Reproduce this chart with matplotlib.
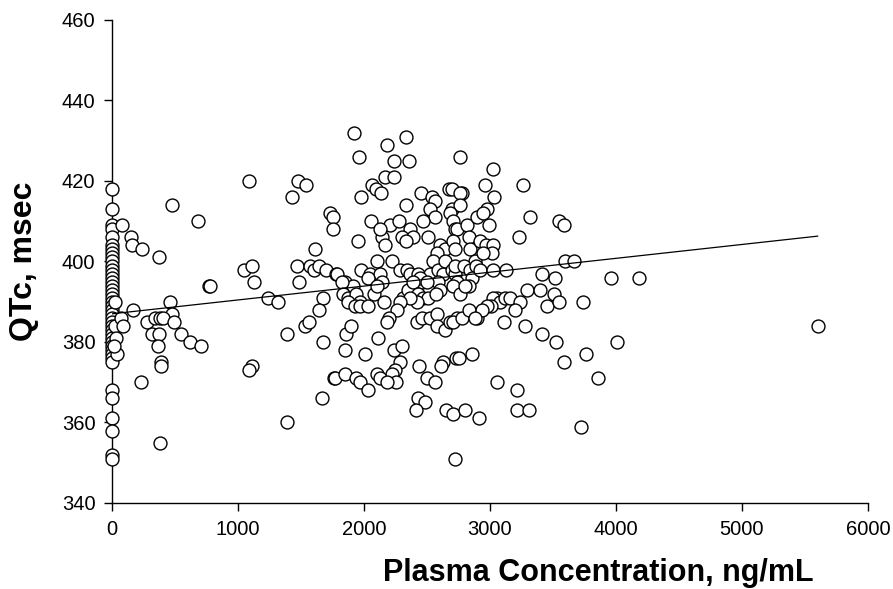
import matplotlib
matplotlib.use("Agg")
import matplotlib.pyplot as plt
import numpy as np

plt.rcParams['font.family'] = ['Liberation Sans', 'DejaVu Sans']

# --- data ---
col_x0_y = [418, 413, 409, 408, 406, 404, 403, 402, 401, 400, 399, 398, 397, 396, 395,
            394, 393, 392, 391, 390, 389, 388, 387, 386, 385, 384, 383, 382, 381, 380,
            379, 378, 377, 376, 375, 368, 366, 361, 358, 352, 351]
col_x0_x = [0] * len(col_x0_y)

near_zero = [(20, 384), (30, 381), (40, 377), (15, 379), (25, 390),
             (80, 409), (150, 406), (155, 404), (235, 403), (375, 401), (480, 414), (680, 410),
             (770, 394), (780, 394), (460, 390), (165, 388), (480, 387), (70, 386), (90, 384),
             (275, 385), (340, 386), (380, 386), (405, 386), (490, 385), (315, 382), (375, 382),
             (550, 382), (620, 380), (705, 379), (365, 379), (390, 375), (385, 374), (230, 370),
             (380, 355)]

mid_low = [(1090, 420), (1050, 398), (1110, 399), (1130, 395), (1240, 391), (1315, 390),
           (1110, 374), (1085, 373), (1390, 360), (1390, 382), (1430, 416), (1475, 420),
           (1540, 419), (1465, 399), (1485, 395), (1570, 399), (1600, 398), (1640, 399),
           (1700, 398), (1780, 397), (1610, 403), (1730, 412), (1755, 411), (1750, 408),
           (1675, 391), (1640, 388), (1530, 384), (1565, 385), (1675, 380), (1765, 371),
           (1670, 366)]

dense = [(1920, 432), (2335, 431), (2180, 429), (1960, 426), (2235, 425), (2355, 425), (2760, 426),
         (2170, 421), (2235, 421), (2060, 419), (2095, 418), (2135, 417), (1975, 416), (2330, 414),
         (2455, 417), (2540, 416), (2565, 415), (2520, 413), (2560, 411), (2470, 410),
         (2675, 418), (2695, 418), (2775, 417), (2760, 417), (2695, 413), (2760, 414), (2685, 412),
         (2705, 410), (2720, 408), (2735, 408), (2815, 409), (2895, 411),
         (2055, 410), (2205, 409), (2275, 410), (2365, 408), (2300, 406), (2385, 406), (2335, 405),
         (2140, 406), (2165, 404), (1955, 405), (2125, 408),
         (2510, 406), (2605, 404), (2645, 403), (2580, 402), (2550, 400), (2710, 405), (2720, 403),
         (2830, 406), (2840, 403), (2880, 400),
         (2100, 400), (2220, 400), (1980, 398), (1785, 397), (1850, 395), (2050, 397), (2125, 397),
         (2285, 398), (2340, 398), (2365, 397), (2430, 397), (2460, 395), (2525, 397), (2590, 398),
         (2630, 397), (2645, 400), (2695, 398), (2720, 397), (2720, 399), (2790, 399), (2840, 398),
         (2890, 399), (2855, 396), (2590, 395), (2140, 395), (2035, 396), (1915, 394), (2445, 396),
         (2500, 395), (2735, 395), (2830, 394),
         (1825, 395), (1835, 392), (1875, 391), (1940, 392), (1970, 390), (1875, 390), (1930, 389),
         (1970, 389), (2035, 389), (2080, 392), (2100, 394), (2155, 390), (2310, 391), (2350, 393),
         (2390, 395), (2430, 392), (2470, 391), (2510, 391), (2420, 390), (2365, 391), (2285, 390),
         (2260, 388), (2195, 386), (2180, 385), (2420, 385), (2460, 386), (2525, 386), (2580, 387),
         (2580, 384), (2645, 383), (2685, 385), (2735, 386), (2710, 385), (2775, 386), (2835, 388),
         (2895, 386), (2605, 393), (2575, 392), (2710, 394), (2760, 392), (2800, 394),
         (1855, 382), (1900, 384), (1850, 378), (2010, 377), (2110, 381), (2240, 378), (2300, 379),
         (2285, 375), (2245, 373), (2220, 372), (2250, 370), (2435, 374), (2500, 371), (2565, 370),
         (2625, 375), (2615, 374), (2730, 376), (2755, 376), (2855, 377), (1770, 371), (1850, 372),
         (1940, 371), (1970, 370), (2035, 368), (2100, 372), (2125, 371), (2180, 370), (2430, 366),
         (2485, 365), (2415, 363), (2650, 363), (2710, 362), (2800, 363), (2910, 361), (2720, 351)]

right = [(3020, 423), (2960, 419), (3260, 419), (3030, 416), (2975, 413), (2945, 412), (2995, 409),
         (3320, 411), (3545, 410), (3590, 409), (3230, 406), (2920, 405), (2965, 404), (3025, 404),
         (3015, 402), (2945, 402), (2920, 398), (3025, 398), (3130, 398), (3595, 400), (3670, 400),
         (3410, 397), (3515, 396), (3960, 396), (4180, 396), (3290, 393), (3400, 393), (3505, 392),
         (3055, 391), (3025, 391), (3080, 390), (3120, 391), (3160, 391), (3240, 390), (3200, 388),
         (3010, 389), (2975, 389), (2935, 388), (2880, 386), (3450, 389), (3545, 390), (3740, 390),
         (3115, 385), (3280, 384), (3410, 382), (3525, 380), (4005, 380), (3585, 375), (3760, 377),
         (3860, 371), (3055, 370), (3215, 368), (3215, 363), (3310, 363), (3720, 359), (5600, 384)]

conc = col_x0_x + [p[0] for p in near_zero + mid_low + dense + right]
qtc = col_x0_y + [p[1] for p in near_zero + mid_low + dense + right]

fit_intercept = 387.0
fit_slope = (406.3 - 387.0) / 5600.0
fit_x = [0, 5600]

xticks = [0, 1000, 2000, 3000, 4000, 5000, 6000]
yticks = [340, 360, 380, 400, 420, 440, 460]

# --- figure ---
fig = plt.figure(figsize=(8.93, 5.89), dpi=100)
ax = fig.add_axes([112 / 893, 1 - 503 / 589, 756 / 893, 483 / 589])

ax.plot(conc, qtc, linestyle='none', marker='o', markersize=9.3,
        markerfacecolor='white', markeredgecolor='black', markeredgewidth=1.0,
        clip_on=False, zorder=3)
fx = np.array(fit_x, dtype=float)
ax.plot(fx, fit_intercept + fit_slope * fx, color='black', linewidth=0.9, zorder=4)

ax.set_xlim(0, 6000)
ax.set_ylim(340, 460)
ax.set_xticks(xticks)
ax.set_yticks(yticks)
for s in ['top', 'right']:
    ax.spines[s].set_visible(False)
for s in ['left', 'bottom']:
    ax.spines[s].set_linewidth(1.0)
ax.tick_params(direction='out', length=6, width=1.0, labelsize=14.5, pad=6)

ax.set_xlabel('Plasma Concentration, ng/mL', fontsize=22, fontweight='bold')
ax.set_ylabel('QTc, msec', fontsize=23, fontweight='bold')
ax.xaxis.label.set_va('center')
ax.xaxis.set_label_coords(0.643, -0.145)
ax.yaxis.set_label_coords(-0.096, 0.5)

fig.savefig('out.png', dpi=100)
